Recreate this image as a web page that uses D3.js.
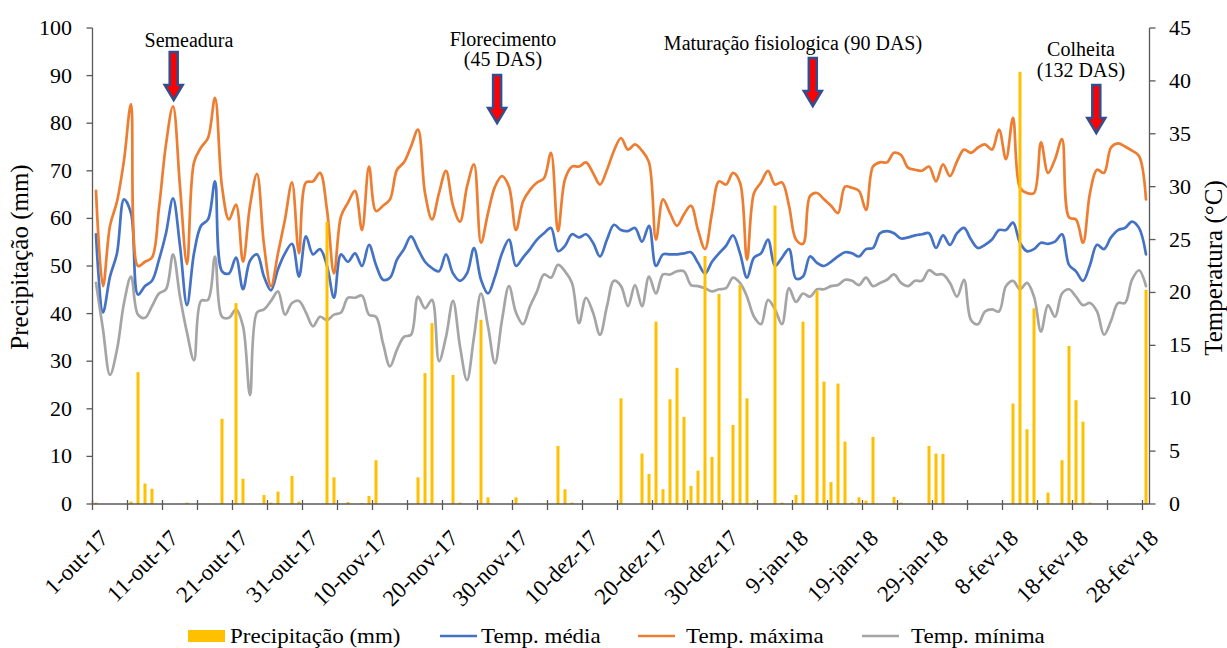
<!DOCTYPE html>
<html>
<head>
<meta charset="utf-8">
<script src="https://cdn.jsdelivr.net/npm/d3@7/dist/d3.min.js"></script>
<style>
  html, body { margin: 0; padding: 0; background: #fff; }
</style>
</head>
<body>
<svg id="chart" width="1227" height="648"></svg>
<script>
// Daily series, 1-out-17 .. 28-fev-18 (151 days)
const tickLabels = ["1-out-17", "11-out-17", "21-out-17", "31-out-17", "10-nov-17", "20-nov-17",
  "30-nov-17", "10-dez-17", "20-dez-17", "30-dez-17", "9-jan-18", "19-jan-18", "29-jan-18",
  "8-fev-18", "18-fev-18", "28-fev-18"];

const precipitation = [
  0.3, 0, 0, 0, 0, 0.5, 27.7, 4.3, 3.2, 0,
  0, 0, 0, 0.3, 0, 0, 0, 0, 17.9, 0,
  42.2, 5.3, 0, 0, 1.9, 0.3, 2.6, 0, 5.9, 0.5,
  0, 0, 0, 59.3, 5.6, 0, 0.4, 0, 0.2, 1.7,
  9.2, 0, 0, 0, 0, 0, 5.6, 27.5, 38.0, 0,
  0, 27.1, 0.3, 0, 0, 38.7, 1.4, 0, 0, 0,
  1.4, 0, 0, 0, 0, 0, 12.2, 3.1, 0.3, 0,
  0, 0, 0, 0, 0, 22.2, 0, 0, 10.6, 6.3,
  38.3, 3.1, 22.0, 28.6, 18.3, 3.8, 7.0, 52.1, 9.9, 44.1,
  0.3, 16.6, 46.0, 22.2, 0.3, 0, 0, 62.7, 0.3, 0,
  1.9, 38.3, 0, 44.8, 25.7, 4.6, 25.3, 13.1, 0.3, 1.4,
  0.7, 14.1, 0, 0, 1.5, 0.3, 0, 0, 0, 12.2,
  10.6, 10.5, 0, 0, 0, 0, 0, 0, 0, 0,
  0, 21.1, 90.8, 15.7, 41.1, 0, 2.4, 0, 9.2, 33.2,
  21.8, 17.3, 0.3, 0, 0, 0, 0, 0, 0, 0,
  45.0
];

const tempMax = [
  29.6, 20.6, 26.3, 28.6, 32.5, 37.8, 22.5, 22.9, 23.3, 28.0,
  34.0, 37.6, 30.0, 22.7, 32.3, 33.7, 34.6, 38.4, 30.0, 26.9,
  28.3, 22.9, 28.2, 31.2, 24.5, 20.6, 23.7, 26.9, 30.4, 23.7,
  30.4, 30.5, 31.3, 27.8, 21.8, 27.2, 28.5, 29.6, 25.9, 31.9,
  27.7, 28.2, 28.8, 31.6, 32.3, 33.8, 35.4, 29.4, 26.9, 29.4,
  31.5, 28.2, 26.7, 30.0, 32.1, 24.7, 27.5, 30.0, 31.0, 30.0,
  25.9, 28.6, 29.7, 30.4, 30.8, 33.2, 25.8, 30.7, 31.9, 31.9,
  32.3, 31.3, 30.2, 31.6, 33.4, 34.6, 33.5, 34.0, 33.4, 32.3,
  25.0, 28.8, 27.5, 26.3, 27.4, 28.2, 25.9, 24.1, 27.5, 30.5,
  30.2, 31.3, 30.4, 23.1, 29.4, 30.4, 31.5, 30.2, 30.4, 28.2,
  25.0, 24.6, 29.1, 29.4, 28.8, 28.2, 27.5, 30.0, 29.9, 29.6,
  27.8, 31.9, 32.3, 32.3, 33.2, 33.0, 31.8, 31.6, 31.5, 31.9,
  30.5, 32.1, 31.0, 32.4, 33.5, 33.2, 33.7, 34.0, 33.5, 35.4,
  32.6, 36.5, 29.9, 29.4, 29.4, 34.2, 31.3, 32.6, 34.5, 27.1,
  26.9, 24.7, 29.4, 31.6, 31.3, 33.7, 34.1, 33.8, 33.4, 32.9,
  28.8
];

const tempMean = [
  25.5, 18.1, 21.5, 23.7, 28.8, 27.5, 19.8, 20.6, 21.1, 23.1,
  25.6, 28.9, 24.4, 18.8, 23.7, 26.3, 26.9, 30.5, 22.0, 21.8,
  23.3, 20.3, 23.0, 23.6, 21.5, 20.2, 22.2, 23.7, 24.6, 21.5,
  25.3, 23.6, 24.1, 22.5, 19.5, 23.6, 22.9, 23.7, 22.5, 24.5,
  22.6, 21.2, 21.4, 23.1, 24.1, 25.3, 24.1, 22.9, 22.3, 22.0,
  23.6, 21.8, 21.1, 21.8, 24.2, 21.2, 19.9, 21.5, 23.7, 25.0,
  22.5, 23.3, 24.1, 25.0, 25.6, 26.1, 23.9, 24.4, 25.5, 25.2,
  25.5, 24.7, 23.4, 25.0, 26.4, 25.9, 25.8, 26.1, 24.8, 26.3,
  22.5, 23.6, 23.6, 23.6, 23.7, 23.8, 22.8, 21.8, 22.9, 23.7,
  24.4, 25.4, 23.7, 21.4, 23.3, 23.7, 25.0, 22.5, 23.3, 24.1,
  21.3, 21.5, 23.4, 22.8, 22.5, 22.9, 23.4, 23.8, 23.7, 23.4,
  24.1, 24.2, 25.6, 25.8, 25.6, 25.1, 25.2, 25.4, 25.5, 25.6,
  24.2, 25.4, 24.5, 25.6, 26.1, 25.0, 24.2, 24.5, 25.0, 25.9,
  25.9, 26.6, 24.7, 23.9, 24.1, 24.7, 24.6, 24.8, 25.5, 22.6,
  22.0, 21.1, 22.6, 24.5, 24.1, 25.2, 25.9, 26.1, 26.7, 26.1,
  23.6
];

const tempMin = [
  20.9, 16.5, 12.2, 14.6, 19.0, 21.5, 17.9, 17.6, 18.7, 19.9,
  20.3, 23.6, 19.6, 16.2, 13.6, 19.2, 19.3, 23.4, 17.7, 17.6,
  18.4, 16.8, 10.3, 18.1, 18.4, 19.2, 20.1, 17.9, 19.0, 19.2,
  18.1, 16.8, 17.7, 17.4, 17.9, 18.1, 19.5, 19.5, 19.7, 17.9,
  17.7, 15.2, 13.0, 14.6, 15.8, 16.0, 19.6, 18.5, 19.3, 13.5,
  15.8, 19.2, 14.9, 11.7, 15.8, 19.9, 16.8, 13.3, 17.4, 20.6,
  18.1, 17.0, 18.7, 20.1, 21.7, 21.4, 22.6, 22.0, 20.9, 17.1,
  19.5, 18.1, 16.0, 18.7, 21.1, 20.6, 18.7, 20.7, 18.7, 21.5,
  19.9, 21.7, 21.7, 22.0, 22.0, 20.7, 20.6, 20.4, 20.1, 20.3,
  20.4, 21.4, 20.9, 19.6, 17.7, 17.0, 19.3, 18.4, 17.0, 20.4,
  19.1, 19.9, 19.6, 20.3, 20.3, 20.6, 20.7, 21.2, 21.1, 20.7,
  21.4, 20.6, 20.9, 21.2, 21.7, 20.9, 20.6, 21.1, 21.1, 22.1,
  21.7, 21.7, 20.9, 19.6, 21.2, 17.4, 17.0, 18.2, 18.4, 18.2,
  20.6, 21.1, 20.3, 20.9, 19.6, 16.3, 18.8, 17.7, 19.9, 20.3,
  19.6, 18.8, 19.0, 18.2, 16.0, 17.3, 19.0, 19.0, 21.2, 22.1,
  20.6
];

// Crop stages marked with arrows (day index from 1-out-17)
const stageNames = [["Semeadura"], ["Florecimento", "(45 DAS)"], ["Maturação fisiologica (90 DAS)"], ["Colheita", "(132 DAS)"]];
const stageArrowDays = [11.1, 57.3, 102.4, 142.9];

const seriesNames = ["Precipitação (mm)", "Temp. média", "Temp. máxima", "Temp. mínima"];
const colors = { precip: "#FFC000", mean: "#4472C4", max: "#ED7D31", min: "#A5A5A5" };

// ---- drawing ----
const FONT = "'Liberation Serif', 'DejaVu Serif', 'Noto Serif', 'Tinos', 'Nimbus Roman', 'Nimbus Roman No9 L', 'FreeSerif', 'Times New Roman', Times, serif";
const svg = d3.select("#chart");
const plotLeft = 92.5, plotRight = 1149.5, plotTop = 28, plotBottom = 504;
const nDays = precipitation.length;

const x = d3.scaleLinear().domain([-0.5, nDays - 0.5]).range([plotLeft, plotRight]);
const yP = d3.scaleLinear().domain([0, 100]).range([plotBottom, plotTop]);
const yT = d3.scaleLinear().domain([0, 45]).range([plotBottom, plotTop]);

const axisColor = "#595959";
const txt = (sel) => sel.append("text").style("font-family", FONT).attr("fill", "#000");

// temperature lines
const lineGen = (arr) => d3.line()
  .x((d, i) => x(i))
  .y(d => yT(d))
  .curve(d3.curveCatmullRom.alpha(0.5))(arr);

[[tempMin, colors.min], [tempMean, colors.mean], [tempMax, colors.max]].forEach(([arr, c]) => {
  svg.append("path")
    .attr("d", lineGen(arr))
    .attr("fill", "none")
    .attr("stroke", c)
    .attr("stroke-width", 2.7)
    .attr("stroke-linejoin", "round")
    .attr("stroke-linecap", "round");
});

// precipitation bars
const barW = 3;
svg.append("g").selectAll("rect")
  .data(precipitation)
  .join("rect")
  .attr("x", (d, i) => x(i) - barW / 2)
  .attr("width", barW)
  .attr("y", d => yP(d))
  .attr("height", d => plotBottom - yP(d))
  .attr("fill", colors.precip);

// left axis
const gL = svg.append("g");
gL.append("line").attr("x1", plotLeft).attr("x2", plotLeft).attr("y1", plotTop).attr("y2", plotBottom)
  .attr("stroke", axisColor).attr("stroke-width", 1.3);
yP.ticks(10).forEach(v => {
  gL.append("line").attr("x1", plotLeft - 6).attr("x2", plotLeft).attr("y1", yP(v)).attr("y2", yP(v))
    .attr("stroke", axisColor).attr("stroke-width", 1.3);
  txt(gL).attr("x", 72).attr("y", yP(v)).attr("dy", "0.35em")
    .attr("text-anchor", "end").attr("font-size", 20)
    .attr("transform", `translate(72,0) scale(1.1,1) translate(-72,0)`)
    .text(v);
});

// right axis
const gR = svg.append("g");
gR.append("line").attr("x1", plotRight).attr("x2", plotRight).attr("y1", plotTop).attr("y2", plotBottom)
  .attr("stroke", axisColor).attr("stroke-width", 1.3);
d3.range(0, 46, 5).forEach(v => {
  gR.append("line").attr("x1", plotRight).attr("x2", plotRight + 6).attr("y1", yT(v)).attr("y2", yT(v))
    .attr("stroke", axisColor).attr("stroke-width", 1.3);
  txt(gR).attr("x", 1169).attr("y", yT(v)).attr("dy", "0.35em")
    .attr("text-anchor", "start").attr("font-size", 20)
    .attr("transform", `translate(1169,0) scale(1.1,1) translate(-1169,0)`)
    .text(v);
});

// bottom axis
const gB = svg.append("g");
gB.append("line").attr("x1", plotLeft).attr("x2", plotRight).attr("y1", plotBottom).attr("y2", plotBottom)
  .attr("stroke", axisColor).attr("stroke-width", 1.3);
d3.range(0, nDays, 5).forEach(i => {
  const tx = x(i - 0.5);
  gB.append("line").attr("x1", tx).attr("x2", tx).attr("y1", plotBottom - 4).attr("y2", plotBottom + 6)
    .attr("stroke", axisColor).attr("stroke-width", 1.3);
});
tickLabels.forEach((t, k) => {
  const px = x(k * 10) + 8, py = plotBottom + 30;
  txt(gB)
    .attr("transform", `translate(${px},${py}) rotate(-45)`)
    .attr("text-anchor", "end").attr("dy", "0.35em")
    .attr("font-size", 23)
    .text(t);
});

// axis titles
txt(svg).attr("transform", "translate(28,257) rotate(-90)")
  .attr("text-anchor", "middle").attr("font-size", 25).text("Precipitação (mm)");
txt(svg).attr("transform", "translate(1222,268) rotate(-90)")
  .attr("text-anchor", "middle").attr("font-size", 25).text("Temperatura (°C)");

// stage annotations
const textPos = [[189, [46.5]], [503, [45.5, 66]], [793, [50]], [1081, [56, 77]]];
const arrowTop = [52, 75, 58, 85];
stageNames.forEach((lines, s) => {
  const [tx, ys] = textPos[s];
  lines.forEach((ln, j) => {
    txt(svg).attr("x", tx).attr("y", ys[j]).attr("text-anchor", "middle")
      .attr("font-size", 20).text(ln);
  });
  const cx = x(stageArrowDays[s]), y0 = arrowTop[s];
  const sw = 4, hw = 9, shaftH = 33, headH = 15;
  const pts = [[cx - sw, y0], [cx + sw, y0], [cx + sw, y0 + shaftH], [cx + hw, y0 + shaftH],
    [cx, y0 + shaftH + headH], [cx - hw, y0 + shaftH], [cx - sw, y0 + shaftH]];
  svg.append("path").attr("d", "M" + pts.map(p => p.join(",")).join("L") + "Z")
    .attr("fill", "#FF0000").attr("stroke", "#2F4F8F").attr("stroke-width", 2.5)
    .attr("stroke-linejoin", "miter");
});

// legend
const lg = svg.append("g");
lg.append("rect").attr("x", 188).attr("y", 630).attr("width", 37).attr("height", 12).attr("fill", colors.precip);
const legendItems = [
  { text: seriesNames[0], tx: 230 },
  { text: seriesNames[1], tx: 481, c: colors.mean, lx: 440 },
  { text: seriesNames[2], tx: 686, c: colors.max, lx: 638 },
  { text: seriesNames[3], tx: 911, c: colors.min, lx: 862 }
];
legendItems.forEach(it => {
  if (it.c) {
    lg.append("line").attr("x1", it.lx).attr("x2", it.lx + 37).attr("y1", 636).attr("y2", 636)
      .attr("stroke", it.c).attr("stroke-width", 2.6);
  }
  txt(lg).attr("x", it.tx).attr("y", 643).attr("font-size", 20)
    .attr("transform", `translate(${it.tx},0) scale(1.15,1) translate(${-it.tx},0)`)
    .text(it.text);
});
</script>
</body>
</html>
